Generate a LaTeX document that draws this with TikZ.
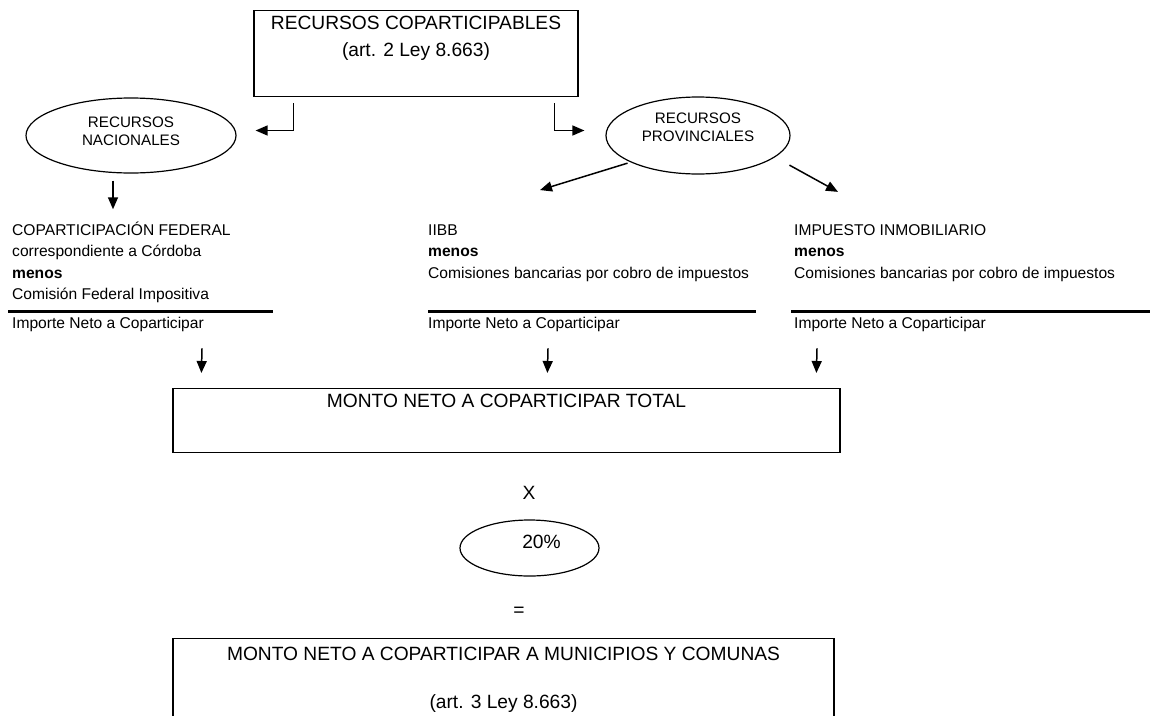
\documentclass[tikz,border=0pt]{standalone}
\usepackage{fontspec}
\setmainfont{Liberation Sans}
\usetikzlibrary{positioning,arrows.meta,calc,shapes.geometric}
\newcommand{\bigtxt}{\fontsize{19.2}{24}\selectfont}
\newcommand{\smalltxt}{\fontsize{15.6}{19}\selectfont}
\newcommand{\ovaltxt}{\fontsize{15.2}{18}\selectfont}
\tikzset{
  box/.style   ={draw, line width=1.2pt, inner xsep=0pt, inner ysep=5pt, font=\bigtxt},
  oval/.style  ={ellipse, draw, line width=1.2pt, inner sep=0pt, align=center, font=\ovaltxt},
  coltxt/.style={anchor=base west, inner sep=0pt, font=\smalltxt},
  arr/.style   ={line width=1.5pt, -{Triangle[length=12pt,width=10pt]}},
  rulebar/.style={line width=3pt},
}
% column lines: name/baseline/text
\def\colA{a1/235/COPARTICIPACIÓN FEDERAL, a2/256.5/correspondiente a Córdoba,
          a3/278/\textbf{menos}, a4/299.5/Comisión Federal Impositiva}
\def\colB{b1/235/IIBB, b2/256.5/\textbf{menos}, b3/278/Comisiones bancarias por cobro de impuestos}
\def\colC{c1/235/IMPUESTO INMOBILIARIO, c2/256.5/\textbf{menos}, c3/278/Comisiones bancarias por cobro de impuestos}

\begin{document}
\begin{tikzpicture}[x=1pt,y=-1pt]
\useasboundingbox (0,0) rectangle (1150,715);
\clip (0,0) rectangle (1150,715);

\node[box, minimum width=324pt, anchor=north] (rc) at (416,10)
  {\parbox[t][76pt][t]{320pt}{\centering RECURSOS COPARTICIPABLES\\[3pt](art. 2 Ley 8.663)}};
\node[oval, minimum width=210pt, minimum height=75pt] (nac) at (131,135.5)
  {RECURSOS\\NACIONALES\rule[-8pt]{0pt}{8pt}};
\node[oval, minimum width=184pt, minimum height=77pt] (prov) at (698,135.5)
  {RECURSOS\\PROVINCIALES\rule[-16pt]{0pt}{16pt}};

\foreach \n/\y/\t in \colA {\node[coltxt] (\n) at (12,\y) {\t};}
\foreach \n/\y/\t in \colB {\node[coltxt] (\n) at (428,\y) {\t};}
\foreach \n/\y/\t in \colC {\node[coltxt] (\n) at (794,\y) {\t};}
\foreach \n/\x in {impA/12, impB/428, impC/794}
  {\node[coltxt] (\n) at (\x,328) {Importe Neto a Coparticipar};}
\foreach \xa/\xb in {8/273, 428/756, 791/1150} {\draw[rulebar] (\xa,311) -- (\xb,311);}

\node[box, minimum width=667pt, anchor=north] (total) at (506.5,388)
  {\parbox[t][54pt][t]{600pt}{\centering MONTO NETO A COPARTICIPAR TOTAL}};
\node[font=\bigtxt] (por) at (529,493) {X};
\node[oval, minimum width=139pt, minimum height=56pt, font=\bigtxt] (pct) at (529.5,548)
  {\hspace*{24pt}20\%\rule[-12pt]{0pt}{12pt}};
\node[font=\bigtxt] (igual) at (519,612) {=};
\node[box, minimum width=661pt, anchor=north, inner ysep=8pt] (muni) at (503.5,638)
  {\parbox[t][110pt][t]{640pt}{\centering MONTO NETO A COPARTICIPAR A MUNICIPIOS Y COMUNAS\\[24pt](art. 3 Ley 8.663)}};

\draw[arr] ([xshift=40pt,yshift=-6pt]rc.south west) |- ([xshift=19pt,yshift=5pt]nac.east);
\draw[arr] ([xshift=-24pt,yshift=-6pt]rc.south east) |- ([xshift=-21pt,yshift=5pt]prov.west);
\draw[arr] ([xshift=-18pt,yshift=-7pt]nac.south) -- ($(a1.north west)+(101,-12)$);
\draw[arr] ([xshift=-5pt]prov.south west) -- ($(b1.north west)+(112,-34)$);
\draw[arr] ([xshift=26pt,yshift=-2pt]prov.south east) -- ($(c1.north west)+(44,-32)$);
\foreach \n/\dx/\dy in {impA/190/29, impB/120/375, impC/23/644}
  {\draw[arr] ($(\n.south west)+(\dx,17)$) -- ($(total.north west)+(\dy,-15)$);}
\end{tikzpicture}
\end{document}
